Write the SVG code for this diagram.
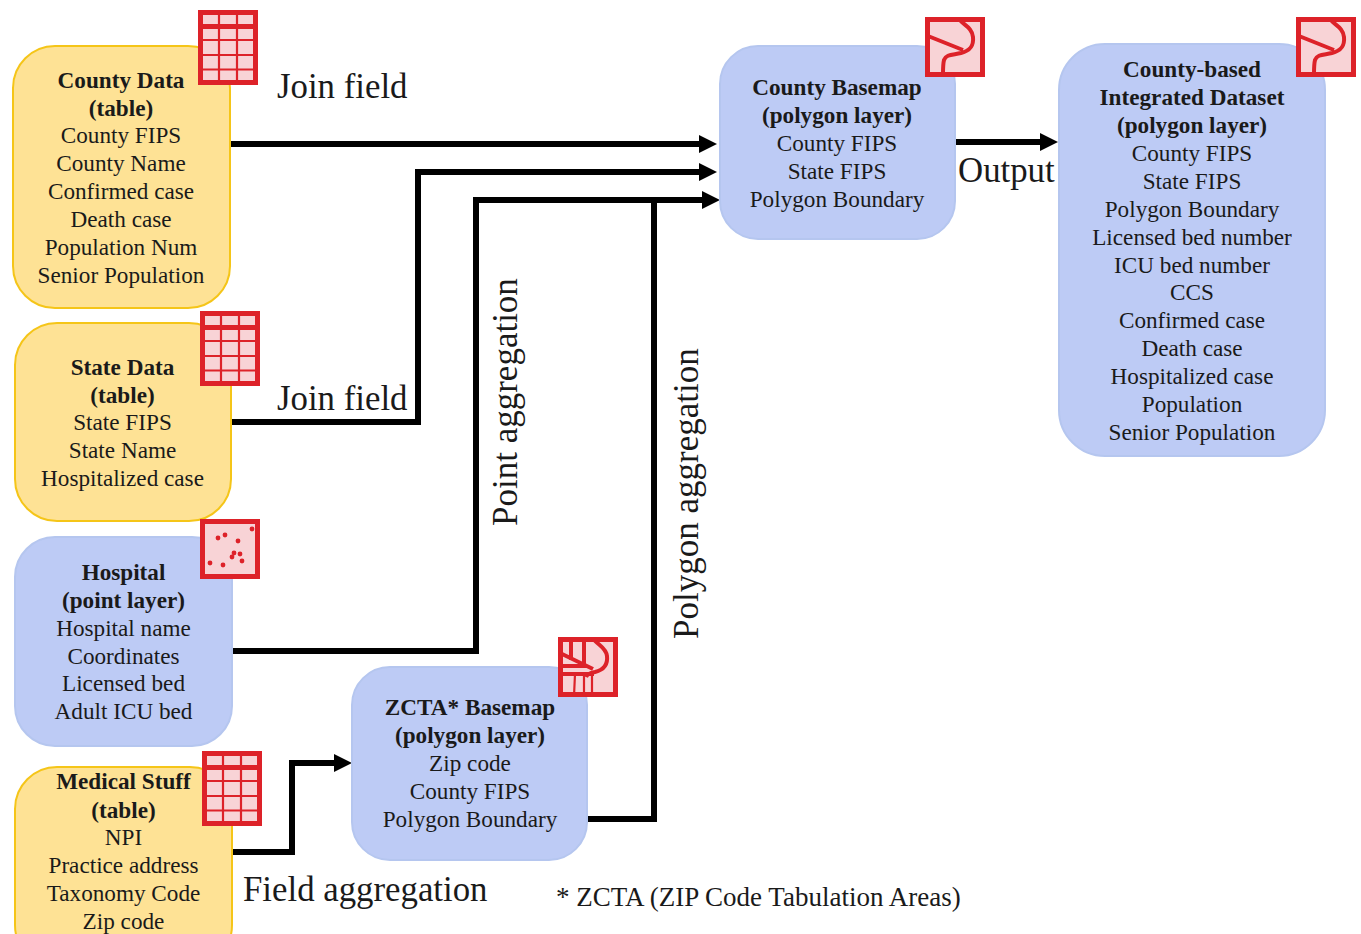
<svg xmlns="http://www.w3.org/2000/svg" width="1361" height="934" viewBox="0 0 1361 934">
<style>
text{font-family:"Liberation Serif","Times New Roman",serif;fill:#1a1a1a;font-size:23.2px;text-anchor:middle}
.b{font-weight:bold}
.l{font-size:34.8px;text-anchor:start}
.v{font-size:35px;text-anchor:start}
.y{fill:#fee295;stroke:#f5c518;stroke-width:2}
.p{fill:#bdcbf5;stroke:#b5c6ef;stroke-width:2}
.c{fill:none;stroke:#000;stroke-width:6}
.i{fill:#f8d3d6;stroke:#dd2229;stroke-width:5}
.g{fill:none;stroke:#dd2229;stroke-width:2.2}
.t{fill:none;stroke:#dd2229;stroke-width:4}
.d{fill:#dd2229}
</style>
<defs>
<marker id="a" markerUnits="userSpaceOnUse" markerWidth="20" markerHeight="20" refX="8" refY="10" orient="auto"><path d="M0 1L18 10L0 19Z" fill="#000"/></marker>
<g id="tbl"><rect class="i" x="2.5" y="2.5" width="55" height="70"/><path class="g" d="M3 30H57M3 45H57M3 59.5H57M21 3V73M39 3V73"/><path d="M3 16.5H57" stroke="#dd2229" stroke-width="5"/></g>
<g id="poly"><rect class="i" x="2.5" y="2.5" width="55" height="55"/><path class="t" d="M34 2C38 8 47 10 48 20C49 30 44 34 36 36C28 38 21 37 19 43C18 47 18 52 18 57M3 19L38 33"/></g>
</defs>
<g id="connectors">
<path class="c" marker-end="url(#a)" d="M231 144H707"/>
<path class="c" marker-end="url(#a)" d="M231 422H418V172H707"/>
<path class="c" marker-end="url(#a)" d="M232 651H476V200H710"/>
<path class="c" d="M588 819H654V200"/>
<path class="c" marker-end="url(#a)" d="M232 852H292V763H342"/>
<path class="c" marker-end="url(#a)" d="M955 142H1048"/>
</g>
<g id="county-data"><rect class="y" x="13" y="46" width="217" height="262" rx="42"/>
<use href="#tbl" x="198" y="10"/>
<text x="121" y="88" class="b">County Data</text><text x="121" y="116" class="b">(table)</text><text x="121" y="143">County FIPS</text><text x="121" y="171">County Name</text><text x="121" y="199">Confirmed case</text><text x="121" y="227">Death case</text><text x="121" y="255">Population Num</text><text x="121" y="283">Senior Population</text></g>
<g id="state-data"><rect class="y" x="15" y="323" width="216" height="198" rx="42"/>
<use href="#tbl" x="200" y="311"/>
<text x="122.5" y="375" class="b">State Data</text><text x="122.5" y="403" class="b">(table)</text><text x="122.5" y="430">State FIPS</text><text x="122.5" y="458">State Name</text><text x="122.5" y="486">Hospitalized case</text></g>
<g id="hospital"><rect class="p" x="15" y="537" width="217" height="209" rx="40"/>
<g><rect class="i" x="202.5" y="521.5" width="55" height="55"/>
<circle class="d" cx="252" cy="529" r="2.4"/><circle class="d" cx="218" cy="538" r="2.4"/><circle class="d" cx="225" cy="535" r="2.4"/><circle class="d" cx="238" cy="541" r="2.4"/><circle class="d" cx="234" cy="553" r="2.4"/><circle class="d" cx="232" cy="557" r="2.4"/><circle class="d" cx="240" cy="554" r="2.4"/><circle class="d" cx="242" cy="561" r="2.4"/><circle class="d" cx="210" cy="563" r="2.4"/><circle class="d" cx="223" cy="565" r="2.4"/></g>
<text x="123.5" y="580" class="b">Hospital</text><text x="123.5" y="608" class="b">(point layer)</text><text x="123.5" y="636">Hospital name</text><text x="123.5" y="664">Coordinates</text><text x="123.5" y="691">Licensed bed</text><text x="123.5" y="719">Adult ICU bed</text></g>
<g id="medical-stuff"><rect class="y" x="15" y="767" width="217" height="200" rx="42"/>
<use href="#tbl" x="202" y="751"/>
<text x="123.5" y="789" class="b">Medical Stuff</text><text x="123.5" y="818" class="b">(table)</text><text x="123.5" y="845">NPI</text><text x="123.5" y="873">Practice address</text><text x="123.5" y="901">Taxonomy Code</text><text x="123.5" y="929">Zip code</text></g>
<g id="zcta-basemap"><rect class="p" x="352" y="667" width="235" height="193" rx="38"/>
<g><rect class="i" x="560.5" y="639.5" width="55" height="55"/><path class="t" d="M593 638C597 645 606 647 607 656C608 665 603 670 595 672C590 673 587 674 586 677"/><path class="t" d="M560 653L593 669M571 638V660M584 638V664M560 666H586M560 674H594"/><path class="g" d="M575 674L574 696M584 674V696M592 674V696" stroke-width="3"/></g>
<text x="470" y="715" class="b">ZCTA* Basemap</text><text x="470" y="743" class="b">(polygon layer)</text><text x="470" y="771">Zip code</text><text x="470" y="799">County FIPS</text><text x="470" y="827">Polygon Boundary</text></g>
<g id="county-basemap"><rect class="p" x="720" y="46" width="235" height="193" rx="38"/>
<use href="#poly" x="925" y="17"/>
<text x="837" y="95" class="b">County Basemap</text><text x="837" y="123" class="b">(polygon layer)</text><text x="837" y="151">County FIPS</text><text x="837" y="179">State FIPS</text><text x="837" y="207">Polygon Boundary</text></g>
<g id="integrated-dataset"><rect class="p" x="1059" y="44" width="266" height="412" rx="46"/>
<use href="#poly" x="1296" y="17"/>
<text x="1192" y="77" class="b">County-based</text><text x="1192" y="105" class="b">Integrated Dataset</text><text x="1192" y="133" class="b">(polygon layer)</text><text x="1192" y="161">County FIPS</text><text x="1192" y="189">State FIPS</text><text x="1192" y="217">Polygon Boundary</text><text x="1192" y="245">Licensed bed number</text><text x="1192" y="273">ICU bed number</text><text x="1192" y="300">CCS</text><text x="1192" y="328">Confirmed case</text><text x="1192" y="356">Death case</text><text x="1192" y="384">Hospitalized case</text><text x="1192" y="412">Population</text><text x="1192" y="440">Senior Population</text></g>
<g id="labels">
<text class="l" x="277" y="98">Join field</text>
<text class="l" x="277" y="410">Join field</text>
<text class="l" x="958" y="182">Output</text>
<text class="l" x="243" y="901">Field aggregation</text>
<text class="v" transform="translate(517 526) rotate(-90)">Point aggregation</text>
<text class="v" transform="translate(698 639) rotate(-90)">Polygon aggregation</text>
<text x="556" y="906" style="font-size:27px;text-anchor:start">* ZCTA (ZIP Code Tabulation Areas)</text>
</g>
</svg>
